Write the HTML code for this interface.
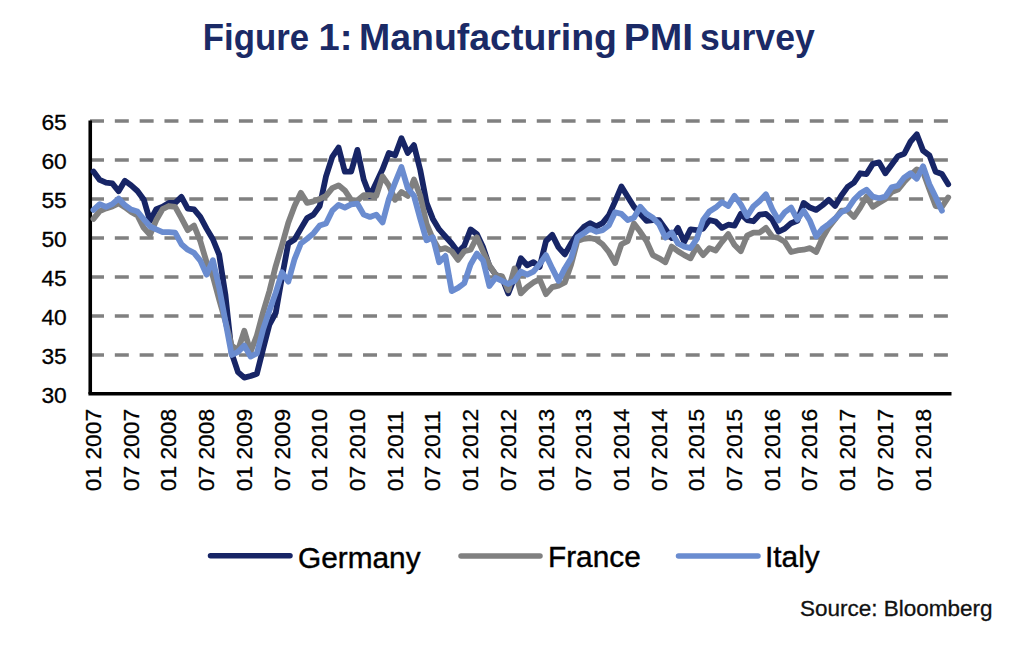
<!DOCTYPE html>
<html><head><meta charset="utf-8"><style>
html,body{margin:0;padding:0;background:#fff;width:1024px;height:651px;overflow:hidden}
svg{display:block}
text{font-family:"Liberation Sans",sans-serif;fill:#000}
.t22{font-size:22.8px;stroke:#000;stroke-width:0.3px}
.t22s{font-size:22.5px;fill:#111;stroke:#111;stroke-width:0.3px}
.t29{font-size:29.8px;stroke:#000;stroke-width:0.4px}
.title{font-size:36px;font-weight:bold;fill:#1B2A66}
</style></head><body>
<svg width="1024" height="651" viewBox="0 0 1024 651">
<line x1="90" y1="355.0" x2="948.5" y2="355.0" stroke="#808080" stroke-width="3.4" stroke-dasharray="14 10.82"/>
<line x1="90" y1="316.0" x2="948.5" y2="316.0" stroke="#808080" stroke-width="3.4" stroke-dasharray="14 10.82"/>
<line x1="90" y1="277.0" x2="948.5" y2="277.0" stroke="#808080" stroke-width="3.4" stroke-dasharray="14 10.82"/>
<line x1="90" y1="238.0" x2="948.5" y2="238.0" stroke="#808080" stroke-width="3.4" stroke-dasharray="14 10.82"/>
<line x1="90" y1="199.0" x2="948.5" y2="199.0" stroke="#808080" stroke-width="3.4" stroke-dasharray="14 10.82"/>
<line x1="90" y1="160.0" x2="948.5" y2="160.0" stroke="#808080" stroke-width="3.4" stroke-dasharray="14 10.82"/>
<line x1="90" y1="121.0" x2="948.5" y2="121.0" stroke="#808080" stroke-width="3.4" stroke-dasharray="14 10.82"/>
<line x1="90.25" y1="120.6" x2="90.25" y2="394" stroke="#000" stroke-width="3.6"/>
<line x1="88.45" y1="393.8" x2="951.5" y2="393.8" stroke="#000" stroke-width="3.6"/>
<path d="M93.45,171.54 L99.73,179.89 L106.02,182.62 L112.31,183.40 L118.59,191.20 L124.88,180.75 L131.16,185.35 L137.44,190.97 L143.73,199.39 L150.01,220.84 L156.30,209.14 L162.59,206.80 L168.87,202.90 L175.16,202.90 L181.44,196.89 L187.73,208.52 L194.01,209.30 L200.30,216.94 L206.58,228.64 L212.87,239.25 L219.15,254.61 L225.44,294.94 L231.72,353.44 L238.00,372.16 L244.29,377.62 L250.57,376.06 L256.86,373.72 L263.14,348.76 L269.43,324.58 L275.72,312.88 L282.00,277.00 L288.29,243.46 L294.57,239.56 L300.86,228.64 L307.14,218.11 L313.43,214.60 L319.71,206.02 L326.00,176.38 L332.28,156.88 L338.56,147.52 L344.85,171.70 L351.13,171.70 L357.42,149.86 L363.70,179.50 L369.99,195.88 L376.27,182.62 L382.56,169.36 L388.84,152.98 L395.13,155.32 L401.42,138.16 L407.70,152.98 L413.99,145.18 L420.27,170.14 L426.56,202.90 L432.84,218.89 L439.12,229.42 L445.41,236.44 L451.69,243.46 L457.98,252.04 L464.26,245.80 L470.55,229.42 L476.83,234.10 L483.12,247.36 L489.40,266.08 L495.69,274.66 L501.98,277.78 L508.26,293.38 L514.55,277.78 L520.83,258.28 L527.12,265.30 L533.40,262.18 L539.69,266.86 L545.97,241.12 L552.25,234.88 L558.54,247.36 L564.83,254.38 L571.11,243.46 L577.39,234.10 L583.68,227.08 L589.97,223.18 L596.25,226.30 L602.54,223.18 L608.82,215.38 L615.11,201.34 L621.39,186.52 L627.68,196.66 L633.96,206.80 L640.25,213.82 L646.53,220.84 L652.82,220.06 L659.10,220.06 L665.39,229.03 L671.67,238.00 L677.96,227.86 L684.24,241.90 L690.53,229.42 L696.81,230.20 L703.10,228.64 L709.38,220.06 L715.67,221.62 L721.95,227.86 L728.24,224.74 L734.52,225.52 L740.81,213.82 L747.09,220.06 L753.38,221.23 L759.66,214.60 L765.95,213.82 L772.23,219.67 L778.52,231.76 L784.80,228.64 L791.09,223.18 L797.37,220.84 L803.66,202.90 L809.94,207.58 L816.23,209.92 L822.51,205.24 L828.80,199.78 L835.08,206.02 L841.37,195.49 L847.65,186.91 L853.94,182.62 L860.22,173.26 L866.51,174.04 L872.79,163.90 L879.08,162.34 L885.36,173.26 L891.65,164.68 L897.93,156.10 L904.22,153.76 L910.50,141.67 L916.79,134.26 L923.07,150.64 L929.36,155.32 L935.64,171.70 L941.93,174.04 L948.21,184.18" fill="none" stroke="#172566" stroke-width="5.8" stroke-linejoin="round" stroke-linecap="round"/>
<path d="M93.45,218.89 L99.73,211.09 L106.02,208.36 L112.31,206.41 L118.59,203.29 L124.88,207.19 L131.16,211.87 L137.44,215.38 L143.73,227.86 L150.01,234.88 L156.30,220.06 L162.59,209.14 L168.87,206.02 L175.16,206.80 L181.44,218.11 L187.73,230.20 L194.01,225.52 L200.30,241.12 L206.58,262.18 L212.87,276.22 L219.15,299.62 L225.44,321.46 L231.72,345.64 L238.00,350.32 L244.29,330.82 L250.57,351.88 L256.86,335.50 L263.14,312.10 L269.43,291.04 L275.72,266.08 L282.00,245.02 L288.29,222.79 L294.57,206.02 L300.86,192.76 L307.14,202.90 L313.43,201.34 L319.71,199.00 L326.00,195.88 L332.28,188.08 L338.56,185.35 L344.85,190.42 L351.13,199.78 L357.42,200.56 L363.70,195.10 L369.99,195.10 L376.27,195.88 L382.56,176.38 L388.84,185.35 L395.13,199.78 L401.42,191.98 L407.70,195.88 L413.99,179.50 L420.27,195.88 L426.56,223.96 L432.84,238.78 L439.12,249.70 L445.41,248.14 L451.69,251.26 L457.98,259.84 L464.26,251.26 L470.55,249.70 L476.83,237.22 L483.12,251.65 L489.40,265.30 L495.69,274.66 L501.98,276.22 L508.26,290.26 L514.55,268.42 L520.83,293.38 L527.12,287.14 L533.40,282.46 L539.69,279.34 L545.97,294.16 L552.25,287.14 L558.54,285.58 L564.83,282.46 L571.11,264.52 L577.39,241.12 L583.68,238.78 L589.97,238.00 L596.25,239.56 L602.54,244.24 L608.82,252.04 L615.11,262.96 L621.39,244.24 L627.68,241.12 L633.96,223.57 L640.25,231.76 L646.53,241.12 L652.82,255.16 L659.10,258.28 L665.39,262.18 L671.67,246.58 L677.96,251.26 L684.24,255.16 L690.53,258.28 L696.81,246.58 L703.10,255.16 L709.38,248.14 L715.67,250.48 L721.95,241.90 L728.24,234.10 L734.52,245.02 L740.81,251.26 L747.09,235.66 L753.38,232.54 L759.66,232.54 L765.95,227.86 L772.23,236.44 L778.52,238.00 L784.80,241.90 L791.09,252.04 L797.37,250.48 L803.66,249.70 L809.94,248.14 L816.23,252.04 L822.51,238.00 L828.80,227.08 L835.08,219.28 L841.37,210.70 L847.65,210.70 L853.94,216.94 L860.22,207.58 L866.51,196.66 L872.79,206.80 L879.08,202.90 L885.36,199.00 L891.65,191.98 L897.93,189.64 L904.22,181.84 L910.50,175.21 L916.79,169.36 L923.07,172.09 L929.36,189.25 L935.64,206.02 L941.93,206.80 L948.21,197.44" fill="none" stroke="#808080" stroke-width="5.8" stroke-linejoin="round" stroke-linecap="round"/>
<path d="M93.45,209.92 L99.73,204.07 L106.02,206.80 L112.31,204.07 L118.59,198.61 L124.88,205.24 L131.16,209.53 L137.44,211.48 L143.73,219.28 L150.01,226.30 L156.30,229.42 L162.59,232.15 L168.87,232.15 L175.16,232.54 L181.44,244.24 L187.73,249.70 L194.01,252.82 L200.30,260.62 L206.58,274.66 L212.87,260.23 L219.15,287.53 L225.44,321.46 L231.72,355.00 L238.00,351.88 L244.29,345.64 L250.57,356.56 L256.86,353.44 L263.14,329.26 L269.43,310.54 L275.72,292.60 L282.00,272.32 L288.29,281.68 L294.57,259.06 L300.86,243.46 L307.14,238.78 L313.43,233.32 L319.71,225.52 L326.00,223.57 L332.28,210.70 L338.56,204.85 L344.85,207.58 L351.13,204.46 L357.42,203.68 L363.70,214.60 L369.99,216.94 L376.27,214.60 L382.56,222.40 L388.84,199.00 L395.13,182.62 L401.42,167.02 L407.70,188.08 L413.99,195.88 L420.27,218.89 L426.56,240.34 L432.84,237.22 L439.12,262.18 L445.41,255.94 L451.69,291.04 L457.98,287.92 L464.26,283.24 L470.55,264.52 L476.83,253.60 L483.12,260.62 L489.40,285.97 L495.69,277.78 L501.98,280.90 L508.26,284.02 L514.55,280.90 L520.83,271.54 L527.12,274.66 L533.40,271.54 L539.69,264.13 L545.97,255.16 L552.25,268.42 L558.54,280.90 L564.83,268.42 L571.11,258.28 L577.39,237.22 L583.68,233.32 L589.97,228.64 L596.25,231.76 L602.54,230.20 L608.82,225.52 L615.11,212.26 L621.39,213.82 L627.68,220.06 L633.96,217.72 L640.25,206.80 L646.53,213.82 L652.82,217.72 L659.10,224.35 L665.39,237.61 L671.67,232.54 L677.96,243.46 L684.24,246.58 L690.53,248.14 L696.81,238.78 L703.10,220.06 L709.38,211.48 L715.67,207.58 L721.95,202.12 L728.24,206.02 L734.52,195.88 L740.81,204.46 L747.09,216.16 L753.38,206.41 L759.66,200.95 L765.95,194.32 L772.23,209.14 L778.52,220.45 L784.80,212.26 L791.09,207.58 L797.37,219.67 L803.66,210.70 L809.94,220.84 L816.23,236.44 L822.51,228.64 L828.80,223.96 L835.08,218.50 L841.37,212.26 L847.65,209.14 L853.94,199.78 L860.22,193.54 L866.51,189.64 L872.79,196.66 L879.08,198.22 L885.36,196.66 L891.65,187.30 L897.93,185.74 L904.22,177.55 L910.50,173.26 L916.79,178.72 L923.07,166.24 L929.36,184.18 L935.64,197.05 L941.93,210.70" fill="none" stroke="#6A8CD0" stroke-width="5.8" stroke-linejoin="round" stroke-linecap="round"/>
<text x="66.8" y="402.5" text-anchor="end" class="t22">30</text>
<text x="66.8" y="363.5" text-anchor="end" class="t22">35</text>
<text x="66.8" y="324.5" text-anchor="end" class="t22">40</text>
<text x="66.8" y="285.5" text-anchor="end" class="t22">45</text>
<text x="66.8" y="246.5" text-anchor="end" class="t22">50</text>
<text x="66.8" y="207.5" text-anchor="end" class="t22">55</text>
<text x="66.8" y="168.5" text-anchor="end" class="t22">60</text>
<text x="66.8" y="129.5" text-anchor="end" class="t22">65</text>
<text transform="translate(101.0,491.3) rotate(-90)" x="0" y="0" class="t22">01 2007</text>
<text transform="translate(138.7,491.3) rotate(-90)" x="0" y="0" class="t22">07 2007</text>
<text transform="translate(176.4,491.3) rotate(-90)" x="0" y="0" class="t22">01 2008</text>
<text transform="translate(214.1,491.3) rotate(-90)" x="0" y="0" class="t22">07 2008</text>
<text transform="translate(251.8,491.3) rotate(-90)" x="0" y="0" class="t22">01 2009</text>
<text transform="translate(289.5,491.3) rotate(-90)" x="0" y="0" class="t22">07 2009</text>
<text transform="translate(327.2,491.3) rotate(-90)" x="0" y="0" class="t22">01 2010</text>
<text transform="translate(364.9,491.3) rotate(-90)" x="0" y="0" class="t22">07 2010</text>
<text transform="translate(402.6,491.3) rotate(-90)" x="0" y="0" class="t22">01 2011</text>
<text transform="translate(440.3,491.3) rotate(-90)" x="0" y="0" class="t22">07 2011</text>
<text transform="translate(478.1,491.3) rotate(-90)" x="0" y="0" class="t22">01 2012</text>
<text transform="translate(515.8,491.3) rotate(-90)" x="0" y="0" class="t22">07 2012</text>
<text transform="translate(553.5,491.3) rotate(-90)" x="0" y="0" class="t22">01 2013</text>
<text transform="translate(591.2,491.3) rotate(-90)" x="0" y="0" class="t22">07 2013</text>
<text transform="translate(628.9,491.3) rotate(-90)" x="0" y="0" class="t22">01 2014</text>
<text transform="translate(666.6,491.3) rotate(-90)" x="0" y="0" class="t22">07 2014</text>
<text transform="translate(704.3,491.3) rotate(-90)" x="0" y="0" class="t22">01 2015</text>
<text transform="translate(742.0,491.3) rotate(-90)" x="0" y="0" class="t22">07 2015</text>
<text transform="translate(779.7,491.3) rotate(-90)" x="0" y="0" class="t22">01 2016</text>
<text transform="translate(817.4,491.3) rotate(-90)" x="0" y="0" class="t22">07 2016</text>
<text transform="translate(855.2,491.3) rotate(-90)" x="0" y="0" class="t22">01 2017</text>
<text transform="translate(892.9,491.3) rotate(-90)" x="0" y="0" class="t22">07 2017</text>
<text transform="translate(930.6,491.3) rotate(-90)" x="0" y="0" class="t22">01 2018</text>
<line x1="210.5" y1="555.8" x2="290" y2="555.8" stroke="#172566" stroke-width="5.5" stroke-linecap="round"/>
<text x="298" y="567.8" class="t29">Germany</text>
<line x1="461" y1="556" x2="540" y2="556" stroke="#808080" stroke-width="5.5" stroke-linecap="round"/>
<text x="548" y="567" class="t29">France</text>
<line x1="678.5" y1="556" x2="758" y2="556" stroke="#6A8CD0" stroke-width="5.5" stroke-linecap="round"/>
<text x="765" y="567" class="t29">Italy</text>
<text x="800" y="616.3" class="t22s">Source: Bloomberg</text>
<text x="202.8" y="49.8" class="title" textLength="106.2" lengthAdjust="spacingAndGlyphs">Figure</text>
<text x="318.5" y="49.8" class="title" textLength="33.9" lengthAdjust="spacingAndGlyphs">1:</text>
<text x="359" y="49.8" class="title" textLength="258" lengthAdjust="spacingAndGlyphs">Manufacturing</text>
<text x="623.8" y="49.8" class="title" textLength="69.4" lengthAdjust="spacingAndGlyphs">PMI</text>
<text x="700" y="49.8" class="title" textLength="114.7" lengthAdjust="spacingAndGlyphs">survey</text>
</svg>
</body></html>
